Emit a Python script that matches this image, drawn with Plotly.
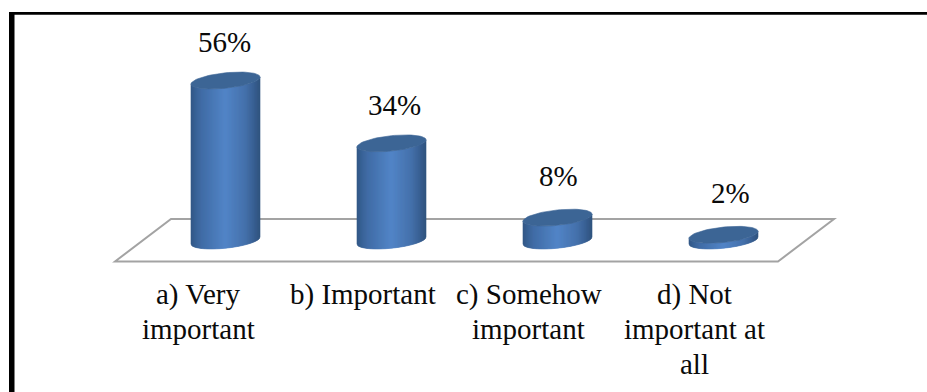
import numpy as np
import plotly.graph_objects as go

WIDTH, HEIGHT = 927, 392

# Chart content
categories = ["a) Very important", "b) Important", "c) Somehow important", "d) Not important at all"]
category_lines = [["a) Very", "important"], ["b) Important"], ["c) Somehow", "important"], ["d) Not", "important at", "all"]]
values = [56, 34, 8, 2]
value_labels = ["56%", "34%", "8%", "2%"]

# Pixel scale of the plot: category pitch, height of one percent, origin of the base plane
PITCH = 166.0
PX_PER_PCT = 2.857
X0_PX, Y0_PX = 225.5, 240.5

x_range = [(0 - X0_PX) / PITCH, (WIDTH - X0_PX) / PITCH]
y_range = [(Y0_PX - HEIGHT) / PX_PER_PCT, (Y0_PX - 0) / PX_PER_PCT]

# Cylinder cross-section, expressed in axis units
SEMI_W = 34.5 / PITCH
SEMI_H = 7.7 / PX_PER_PCT
TILT = 3.5 / PX_PER_PCT

SIDE_STOPS = [(0.0, (50, 88, 135)), (0.15, (64, 108, 165)), (0.5, (82, 133, 200)),
              (0.8, (68, 112, 170)), (1.0, (48, 84, 128))]
TOP_COLOR = "#3c6595"
STRIPS = 69


def side_color(t):
    pos = [s[0] for s in SIDE_STOPS]
    rgb = [np.interp(t, pos, [s[1][i] for s in SIDE_STOPS]) for i in range(3)]
    return "rgb(%d,%d,%d)" % tuple(int(round(c)) for c in rgb)


def lower_edge(u):
    return -np.sqrt(np.clip(1 - u * u, 0, 1)) * SEMI_H + u * TILT


fig = go.Figure()

# Cylinder walls: one trace per shade, each holding that vertical strip for all four bars
edges = np.linspace(-1, 1, STRIPS + 1)
for k in range(STRIPS):
    u0, u1 = edges[k], edges[k + 1]
    us = np.linspace(u0, u1, 4)
    xs, ys = [], []
    for i, v in enumerate(values):
        xs += list(i + us * SEMI_W) + list(i + us[::-1] * SEMI_W) + [i + u0 * SEMI_W, None]
        ys += list(lower_edge(us)) + list(v + lower_edge(us[::-1])) + [lower_edge(np.array(u0)), None]
    color = side_color((k + 0.5) / STRIPS)
    fig.add_trace(go.Scatter(x=xs, y=ys, mode="lines", fill="toself", fillcolor=color,
                             line=dict(color=color, width=0.6), hoverinfo="skip", showlegend=False))

# Cylinder tops
theta = np.linspace(0, 2 * np.pi, 73)
for i, v in enumerate(values):
    fig.add_trace(go.Scatter(
        x=i + SEMI_W * np.cos(theta),
        y=v + SEMI_H * np.sin(theta) + TILT * np.cos(theta),
        mode="lines", fill="toself", fillcolor=TOP_COLOR,
        line=dict(color=TOP_COLOR, width=0.6), hoverinfo="skip", showlegend=False))


def paper_x(px):
    return px / WIDTH


def paper_y(py):
    return 1 - py / HEIGHT


shapes = [
    # Base plane of the 3D chart
    dict(type="path", xref="paper", yref="paper",
         path="M %f,%f L %f,%f L %f,%f L %f,%f Z" % (
             paper_x(115), paper_y(261.5), paper_x(171), paper_y(219),
             paper_x(834), paper_y(219), paper_x(778), paper_y(261.5)),
         line=dict(color="#a3a3a3", width=2), fillcolor="rgba(0,0,0,0)", layer="below"),
    # Outer frame: top and left rules
    dict(type="rect", xref="paper", yref="paper", x0=paper_x(9), x1=paper_x(14.5),
         y0=paper_y(HEIGHT), y1=paper_y(12), fillcolor="#000000", line=dict(width=0), layer="above"),
    dict(type="rect", xref="paper", yref="paper", x0=paper_x(9), x1=paper_x(WIDTH),
         y0=paper_y(14.7), y1=paper_y(12), fillcolor="#000000", line=dict(width=0), layer="above"),
]

FONT = dict(family="Liberation Serif", size=29, color="#0a0a0a")
annotations = []

# Value labels above each cylinder
label_dx = [-1.5, 2.5, 0.5, 7]
label_dy = [39, 38, 42, 42]
for i, (v, text) in enumerate(zip(values, value_labels)):
    annotations.append(dict(x=i, y=v, xref="x", yref="y", text=text, showarrow=False, font=FONT,
                            xanchor="center", yanchor="middle", xshift=label_dx[i], yshift=label_dy[i]))

# Category labels sit left of their cylinders, one annotation per wrapped line
category_dx = [-27.5, -28.5, -29, -29]
for i, lines in enumerate(category_lines):
    for j, line in enumerate(lines):
        annotations.append(dict(x=i, y=0, xref="x", yref="y", text=line, showarrow=False, font=FONT,
                                xanchor="center", yanchor="middle", xshift=category_dx[i],
                                yshift=-(54 + 34.5 * j)))

fig.update_layout(
    width=WIDTH, height=HEIGHT, margin=dict(l=0, r=0, t=0, b=0),
    paper_bgcolor="#ffffff", plot_bgcolor="rgba(0,0,0,0)",
    xaxis=dict(range=x_range, visible=False, fixedrange=True, domain=[0, 1]),
    yaxis=dict(range=y_range, visible=False, fixedrange=True, domain=[0, 1]),
    shapes=shapes, annotations=annotations, showlegend=False,
)

fig.write_html("out.html", config=dict(displayModeBar=False))
